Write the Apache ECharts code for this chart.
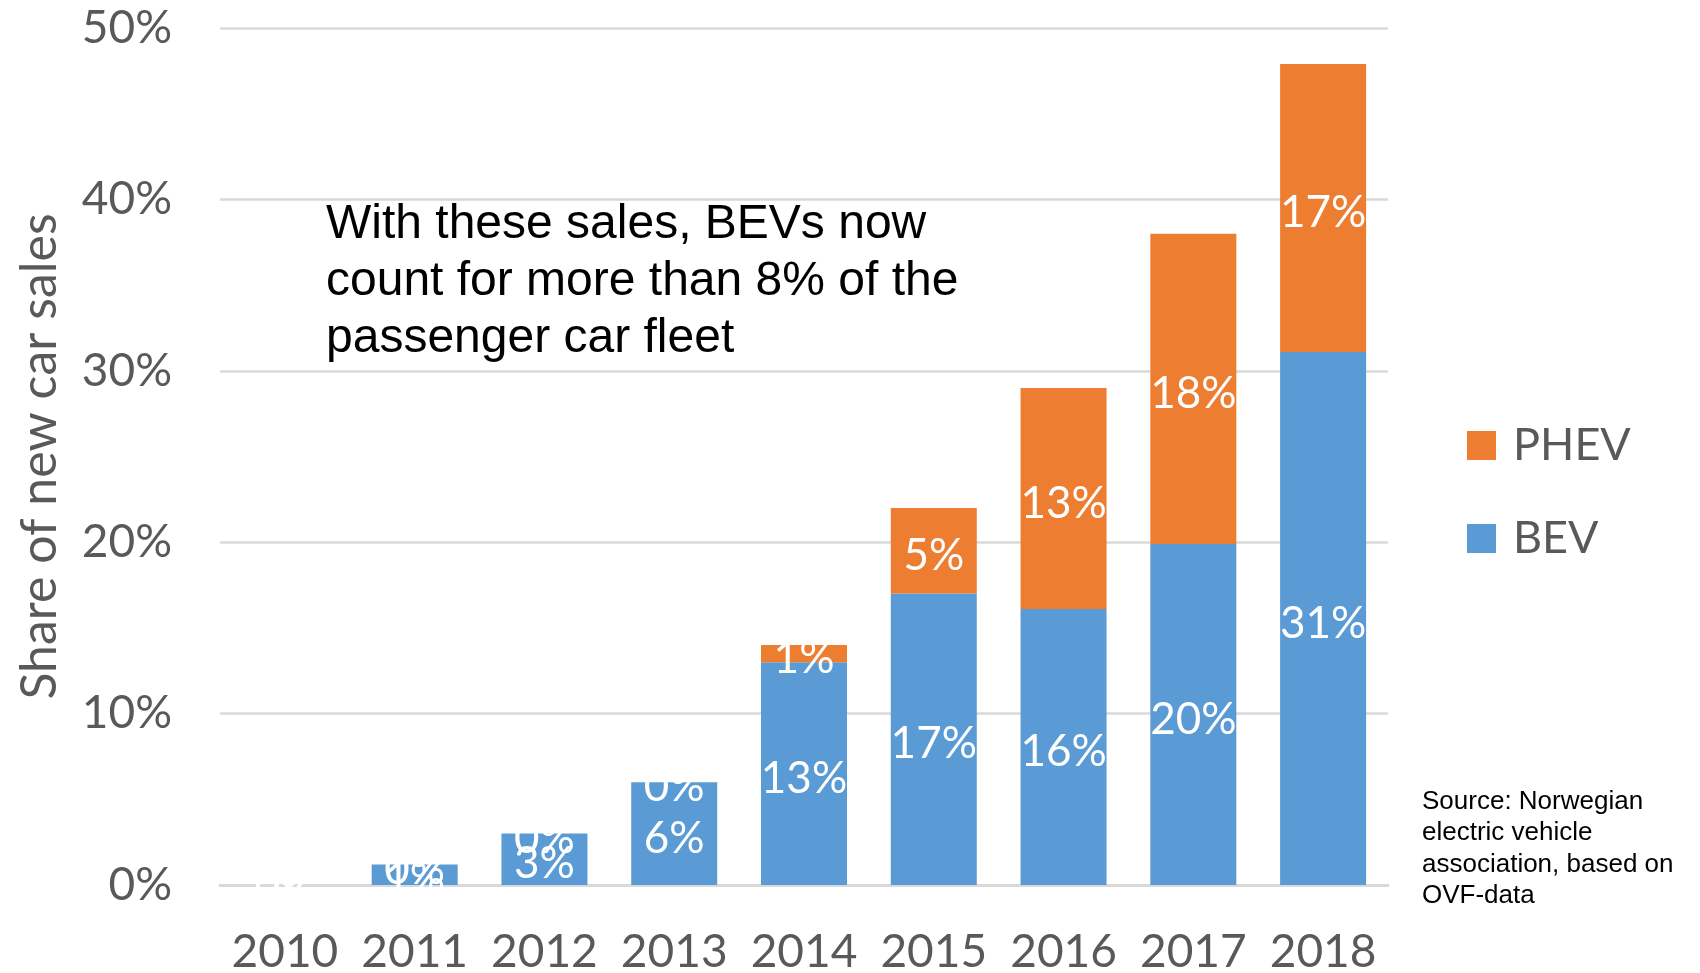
<!DOCTYPE html>
<html>
<head>
<meta charset="utf-8">
<script src="https://cdn.jsdelivr.net/npm/echarts@6/dist/echarts.min.js"></script>
<style>
html,body{margin:0;padding:0;background:#fff;}
#chart{width:1700px;height:973px;}
</style>
</head>
<body>
<div id="chart"></div>
<script>
const years = ['2010','2011','2012','2013','2014','2015','2016','2017','2018'];
const bev  = [0.0, 1.2, 3.0, 6.0, 13.0, 17.0, 16.1, 19.9, 31.1];
const phev = [0.0, 0.0, 0.0, 0.0, 1.0, 5.0, 12.9, 18.1, 16.8];
const yTicks = [0, 10, 20, 30, 40, 50];

const BEV_COLOR = '#5B9BD5';
const PHEV_COLOR = '#ED7D31';
const AXIS_FONT = 'Lato';

const chart = echarts.init(document.getElementById('chart'), null, {renderer:'canvas'});

const labelStyle = {
  show: true,
  position: 'inside',
  offset: [0, 5],
  color: '#ffffff',
  fontFamily: AXIS_FONT,
  fontSize: 44,
  formatter: p => Math.round(p.value) + '%'
};

chart.setOption({
  animation: false,
  backgroundColor: '#ffffff',
  grid: {left: 220, top: 28, width: 1168, bottom: 88, containLabel: false, outerBoundsMode: 'none'},
  legend: {
    orient: 'vertical',
    left: 1467,
    top: 423,
    padding: 0,
    itemWidth: 29,
    itemHeight: 29,
    itemGap: 48,
    icon: 'rect',
    data: ['PHEV', 'BEV'],
    textStyle: {color: '#595959', fontFamily: AXIS_FONT, fontSize: 45, padding: [0,0,0,12]}
  },
  xAxis: {
    type: 'category',
    data: years,
    axisLine: {show: true, lineStyle: {color: '#d9d9d9', width: 3}},
    axisTick: {show: false},
    axisLabel: {color: '#595959', fontFamily: AXIS_FONT, fontSize: 46, margin: 44, interval: 0}
  },
  yAxis: {
    type: 'value',
    min: yTicks[0],
    max: yTicks[yTicks.length - 1],
    interval: yTicks[1] - yTicks[0],
    name: 'Share of new car sales',
    nameLocation: 'middle',
    nameGap: 155,
    nameTextStyle: {color: '#595959', fontFamily: AXIS_FONT, fontSize: 50},
    axisLine: {show: false},
    axisTick: {show: false},
    splitLine: {lineStyle: {color: '#d9d9d9', width: 2.5}},
    axisLabel: {color: '#595959', fontFamily: AXIS_FONT, fontSize: 46, margin: 48, formatter: '{value}%'}
  },
  series: [
    {name: 'BEV', type: 'bar', stack: 'total', data: bev, barWidth: 86,
     itemStyle: {color: BEV_COLOR}, label: labelStyle},
    {name: 'PHEV', type: 'bar', stack: 'total', data: phev, barWidth: 86,
     itemStyle: {color: PHEV_COLOR}, label: labelStyle}
  ],
  graphic: [
    {type: 'text', left: 326, top: 196,
     style: {text: 'With these sales, BEVs now\ncount for more than 8% of the\npassenger car fleet',
             fill: '#000000', font: '48px "Liberation Sans", Arial, sans-serif', lineHeight: 57}},
    {type: 'text', left: 1422, top: 786,
     style: {text: 'Source: Norwegian\nelectric vehicle\nassociation, based on\nOVF-data',
             fill: '#000000', font: '26px "Liberation Sans", Arial, sans-serif', lineHeight: 31.5}}
  ]
});
</script>
</body>
</html>
